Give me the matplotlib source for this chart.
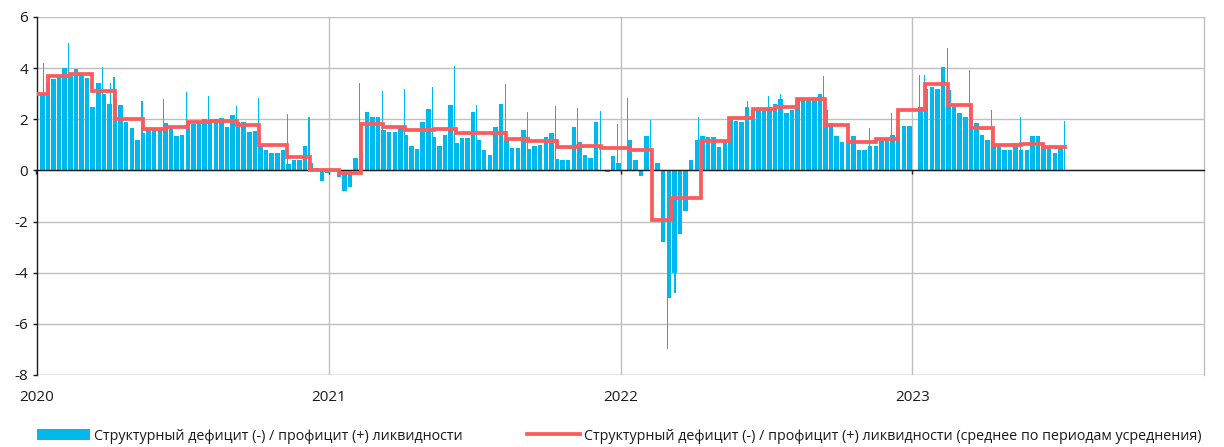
import numpy as np
import pandas as pd
import matplotlib
matplotlib.use("Agg")
import matplotlib.pyplot as plt
import matplotlib.dates as mdates
from matplotlib.patches import Patch
from matplotlib.lines import Line2D
from matplotlib import font_manager

# ---------------- data ----------------
# weekly level of structural liquidity surplus(+)/deficit(-), trn RUB (week starting Monday)
week_start = "2020-01-06"
weekly_values = [
    3.0, 3.45, 3.57, 3.67, 4.0, 3.8, 3.95, 3.75, 3.6, 2.5,
    3.4, 3.0, 2.6, 2.8, 2.55, 1.9, 1.65, 1.2, 1.45, 1.6,
    1.6, 1.6, 1.85, 1.7, 1.35, 1.4, 1.9, 1.8, 1.9, 2.0,
    1.95, 2.0, 2.05, 1.7, 2.15, 1.9, 1.9, 1.5, 1.55, 1.0,
    0.8, 0.7, 0.68, 0.8, 0.25, 0.42, 0.42, 0.94, 0.3, 0.1,
    -0.4, -0.1, np.nan, -0.25, -0.8, -0.65, 0.5, 0.74, 2.3, 2.1,
    2.1, 1.6, 1.5, 1.5, 1.7, 1.4, 0.94, 0.85, 1.9, 2.4,
    1.3, 0.94, 1.4, 2.56, 1.07, 1.26, 1.26, 2.3, 1.2, 0.8,
    0.6, 1.7, 2.6, 1.2, 0.87, 0.87, 1.6, 0.85, 0.95, 1.0,
    1.3, 1.45, 0.45, 0.4, 0.4, 1.7, 1.1, 0.6, 0.5, 1.9,
    0.0, -0.05, 0.55, 0.3, np.nan, 1.2, 0.4, -0.2, 1.33, 0.22,
    0.29, -2.8, -5.0, -4.0, -2.5, -1.6, 0.4, 1.2, 1.33, 1.3,
    1.3, 0.9, 1.1, 1.98, 1.95, 1.9, 2.5, 2.37, 2.37, 2.4,
    2.5, 2.6, 2.8, 2.24, 2.37, 2.76, 2.76, 2.76, 2.76, 3.0,
    2.37, 1.85, 1.33, 1.1, 1.2, 1.33, 0.8, 0.8, 0.94, 0.94,
    1.2, 1.2, 1.4, 1.7, 1.72, 1.72, np.nan, 2.5, 3.2, 3.28,
    3.2, 4.06, 3.15, 2.5, 2.24, 2.1, 1.98, 1.85, 1.4, 1.2,
    0.94, 0.94, 0.8, 0.8, 1.07, 0.8, 0.8, 1.33, 1.33, 0.94,
    0.94, 0.68, 0.9,
]

# single days with pronounced spikes
spike_dates = [
    "2020-01-10", "2020-02-10", "2020-03-23", "2020-04-03", "2020-04-07", "2020-05-12",
    "2020-06-08", "2020-07-07", "2020-08-03", "2020-09-07", "2020-10-05", "2020-11-10",
    "2020-12-07", "2021-02-08", "2021-03-09", "2021-04-05", "2021-05-11", "2021-06-07",
    "2021-07-05", "2021-08-10", "2021-09-06", "2021-10-12", "2021-11-08", "2021-12-07",
    "2021-12-28", "2022-01-10", "2022-02-07", "2022-03-01", "2022-03-10", "2022-04-08",
    "2022-06-09", "2022-07-05", "2022-07-20", "2022-09-12", "2022-11-08", "2022-12-06",
    "2023-01-10", "2023-01-16", "2023-02-14", "2023-03-13", "2023-04-10", "2023-05-16",
    "2023-07-10",
]
spike_values = [
    4.2, 5.0, 4.06, 3.4, 3.67, 2.7,
    2.8, 3.05, 2.9, 2.53, 2.83, 2.2,
    2.07, 3.41, 3.1, 3.2, 3.26, 4.09,
    2.56, 3.37, 2.28, 2.53, 2.43, 2.34,
    1.81, 2.83, 1.98, -7.0, -4.8, 2.08,
    2.7, 2.9, 3.0, 3.7, 1.65, 2.24,
    3.74, 3.74, 4.78, 3.93, 2.37, 2.1,
    1.94,
]

# averaging periods: start dates and average level
period_starts = [
    "2020-01-01", "2020-01-15", "2020-02-12", "2020-03-11", "2020-04-08", "2020-05-13",
    "2020-06-10", "2020-07-08", "2020-08-05", "2020-09-08", "2020-10-06", "2020-11-10",
    "2020-12-08", "2021-01-13", "2021-02-10", "2021-03-09", "2021-04-06", "2021-05-12",
    "2021-06-09", "2021-08-10", "2021-09-07", "2021-10-13", "2021-11-09", "2021-12-08",
    "2022-01-12", "2022-02-09", "2022-03-05", "2022-04-12", "2022-05-17", "2022-06-15",
    "2022-07-13", "2022-08-10", "2022-09-14", "2022-10-12", "2022-11-16", "2022-12-14",
    "2023-01-17", "2023-02-15", "2023-03-15", "2023-04-12", "2023-05-17", "2023-06-14",
]
period_values = [
    3.00, 3.70, 3.79, 3.10, 2.00, 1.62,
    1.70, 1.88, 1.95, 1.77, 0.98, 0.51,
    0.03, -0.10, 1.82, 1.69, 1.58, 1.62,
    1.46, 1.22, 1.15, 0.90, 0.95, 0.88,
    0.80, -1.93, -1.08, 1.16, 2.04, 2.42,
    2.50, 2.81, 1.78, 1.10, 1.21, 2.35,
    3.39, 2.56, 1.64, 0.98, 1.04, 0.93,
]
period_end = "2023-07-11"

label_bars = "Структурный дефицит (-) / профицит (+) ликвидности"
label_line = "Структурный дефицит (-) / профицит (+) ликвидности (среднее по периодам усреднения)"
year_ticks = ["2020", "2021", "2022", "2023"]
y_ticks = [-8, -6, -4, -2, 0, 2, 4, 6]

# ---------------- style ----------------
avail = {f.name for f in font_manager.fontManager.ttflist}
family = None
for cand in ["Open Sans", "Noto Sans", "Roboto", "Lato", "DejaVu Sans"]:
    if cand in avail:
        family = cand
        break
plt.rcParams["font.family"] = [family, "DejaVu Sans"]
plt.rcParams["axes.unicode_minus"] = False

BAR_COLOR = "#00B9EC"
LINE_COLOR = "#FD5B5B"
GRID_COLOR = "#BFBFBF"
FS = 11
LFS = 10.3

fig = plt.figure(figsize=(12.24, 4.47), dpi=100)
ax = fig.add_axes([36.5 / 1224, 1 - 375 / 447, (1204 - 36.5) / 1224, (375 - 17) / 447])

# weekly bars (Mon..Fri)
wk = pd.date_range(week_start, periods=len(weekly_values), freq="W-MON")
wk_num = mdates.date2num(wk.to_pydatetime()) - 0.5
ax.bar(wk_num, weekly_values, width=5.6, align="edge", color=BAR_COLOR,
       linewidth=0, zorder=2)

# daily spikes
sp_num = mdates.date2num(pd.to_datetime(spike_dates).to_pydatetime())
ax.bar(sp_num, spike_values, width=1.3, align="center", color=BAR_COLOR,
       linewidth=0, zorder=2)

# averaging-period step line
st = list(pd.to_datetime(period_starts)) + [pd.Timestamp(period_end)]
sv = period_values + [period_values[-1]]
ax.step(mdates.date2num([d.to_pydatetime() for d in st]), sv, where="post",
        color=LINE_COLOR, linewidth=2.7, zorder=4, solid_joinstyle="miter")

# axes
x0 = mdates.date2num(pd.Timestamp("2020-01-01").to_pydatetime())
x1 = mdates.date2num(pd.Timestamp("2024-01-01").to_pydatetime())
ax.set_xlim(x0, x1)
ax.set_ylim(-8, 6)

ax.set_yticks(y_ticks)
ax.set_yticklabels([str(v) for v in y_ticks])
ax.grid(axis="y", color=GRID_COLOR, linewidth=1.0, zorder=0)

xt = mdates.date2num([pd.Timestamp(y + "-01-01").to_pydatetime() for y in year_ticks])
ax.set_xticks(xt)
ax.set_xticklabels(year_ticks)
for v in xt[1:]:
    ax.axvline(v, color=GRID_COLOR, linewidth=1.0, zorder=0)

ax.spines["bottom"].set_position(("data", 0))
ax.spines["bottom"].set_color("#1a1a1a")
ax.spines["bottom"].set_linewidth(1.0)
ax.spines["bottom"].set_zorder(3)
ax.spines["left"].set_color("#1a1a1a")
ax.spines["left"].set_linewidth(1.0)
ax.spines["top"].set_visible(False)
ax.spines["right"].set_color(GRID_COLOR)
ax.spines["right"].set_linewidth(1.0)
ax.set_axisbelow(True)

ax.tick_params(axis="x", direction="out", length=3, width=1, color="#1a1a1a",
               pad=155, labelsize=FS, labelcolor="#1a1a1a")
ax.tick_params(axis="y", direction="out", length=3, width=1, color="#1a1a1a",
               pad=3, labelsize=FS, labelcolor="#1a1a1a")

# bottom grid line at -8
ax.axhline(-8, color=GRID_COLOR, linewidth=1.0, zorder=0)

# legends
h1 = Patch(facecolor=BAR_COLOR, edgecolor="none")
h2 = Line2D([0], [0], color=LINE_COLOR, linewidth=2.7)
fs_px = LFS * 100 / 72
leg1 = fig.legend([h1], [label_bars], loc="center left",
                  bbox_to_anchor=(37 / 1224, 1 - 436 / 447), frameon=False,
                  fontsize=LFS, borderpad=0, borderaxespad=0,
                  handlelength=53 / fs_px, handleheight=0.7,
                  handletextpad=4 / fs_px)
leg2 = fig.legend([h2], [label_line], loc="center left",
                  bbox_to_anchor=(527 / 1224, 1 - 436 / 447), frameon=False,
                  fontsize=LFS, borderpad=0, borderaxespad=0,
                  handlelength=53 / fs_px, handletextpad=4 / fs_px)
for lg in (leg1, leg2):
    for t in lg.get_texts():
        t.set_color("#1a1a1a")

fig.savefig("out.png", dpi=100)
